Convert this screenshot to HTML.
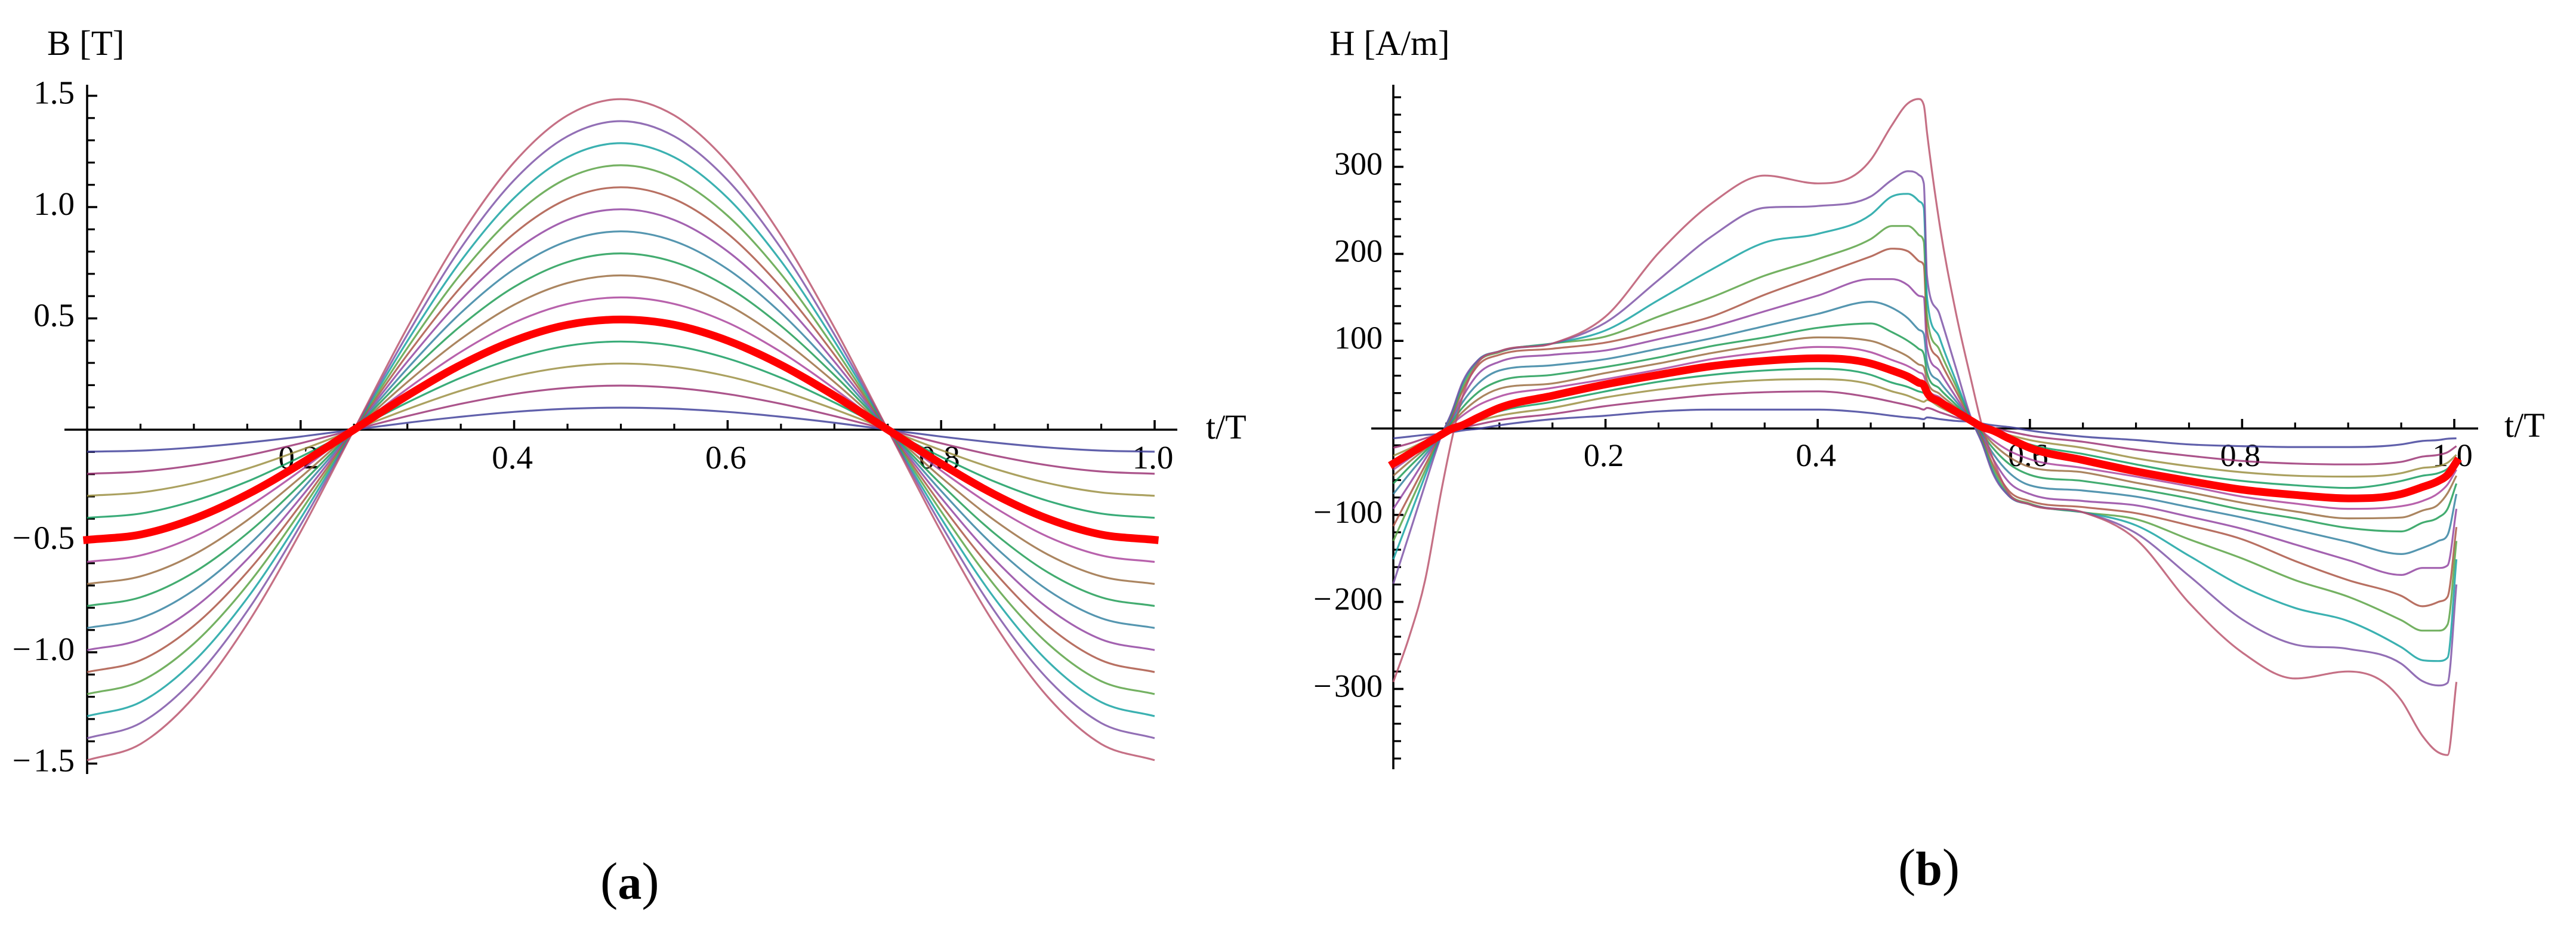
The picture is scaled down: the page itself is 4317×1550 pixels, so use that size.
<!DOCTYPE html>
<html lang="en">
<head>
<meta charset="utf-8">
<title>B and H waveforms</title>
<style>
html,body{margin:0;padding:0;background:#fff;}
svg{display:block;}
text{font-family:"Liberation Serif",serif;fill:#000;}
</style>
</head>
<body>
<svg id="figure" xmlns="http://www.w3.org/2000/svg" width="4317" height="1550" viewBox="0 0 4317 1550">
  <rect width="4317" height="1550" fill="#fff"/>
  <g id="chartB"></g>
  <g id="chartH"></g>
  <text x="79" y="92" font-size="59">B [T]</text>
  <text x="2021" y="735" font-size="58">t/T</text>
  <text x="2228" y="92" font-size="59">H [A/m]</text>
  <text x="4197" y="732" font-size="58">t/T</text>
  <text x="1006" y="1506" font-size="88">(<tspan font-weight="bold" font-size="80">a</tspan>)</text>
  <text x="3181" y="1483" font-size="88">(<tspan font-weight="bold" font-size="80">b</tspan>)</text>
</svg>
<script>
// ---------- shared series colours ----------
const seriesColors = ['#3d3d99','#992e71','#998c3d','#0f9a5c','#ff0000','#a8409a','#996a3d','#1a9a50','#2f7f9f','#8f3f9f','#a85040','#55a040','#10a0a0','#7a4fa5','#b8506a'];

// ---------- panel (a): B [T] ----------
const bTime = [0,.05,.1,.15,.2,.25,.3,.35,.4,.45,.5,.55,.6,.65,.7,.75,.8,.85,.9,.95,1];
const b01 = [-.099,-.094,-.08,-.058,-.031,0,.031,.058,.08,.094,.099,.094,.08,.058,.031,0,-.031,-.058,-.08,-.094,-.099];
const b02 = [-.198,-.188,-.16,-.116,-.061,0,.061,.116,.16,.188,.198,.188,.16,.116,.061,0,-.061,-.116,-.16,-.188,-.198];
const b03 = [-.297,-.282,-.24,-.175,-.092,0,.092,.175,.24,.282,.297,.282,.24,.175,.092,0,-.092,-.175,-.24,-.282,-.297];
const b04 = [-.396,-.377,-.32,-.233,-.122,0,.122,.233,.32,.377,.396,.377,.32,.233,.122,0,-.122,-.233,-.32,-.377,-.396];
const b05 = [-.495,-.471,-.4,-.291,-.153,0,.153,.291,.4,.471,.495,.471,.4,.291,.153,0,-.153,-.291,-.4,-.471,-.495];
const b06 = [-.594,-.565,-.481,-.349,-.184,0,.184,.349,.481,.565,.594,.565,.481,.349,.184,0,-.184,-.349,-.481,-.565,-.594];
const b07 = [-.693,-.659,-.561,-.407,-.214,0,.214,.407,.561,.659,.693,.659,.561,.407,.214,0,-.214,-.407,-.561,-.659,-.693];
const b08 = [-.792,-.753,-.641,-.466,-.245,0,.245,.466,.641,.753,.792,.753,.641,.466,.245,0,-.245,-.466,-.641,-.753,-.792];
const b09 = [-.891,-.847,-.721,-.524,-.275,0,.275,.524,.721,.847,.891,.847,.721,.524,.275,0,-.275,-.524,-.721,-.847,-.891];
const b10 = [-.99,-.942,-.801,-.582,-.306,0,.306,.582,.801,.942,.99,.942,.801,.582,.306,0,-.306,-.582,-.801,-.942,-.99];
const b11 = [-1.089,-1.036,-.881,-.64,-.337,0,.337,.64,.881,1.036,1.089,1.036,.881,.64,.337,0,-.337,-.64,-.881,-1.036,-1.089];
const b12 = [-1.188,-1.13,-.961,-.699,-.367,0,.367,.699,.961,1.13,1.188,1.13,.961,.699,.367,0,-.367,-.699,-.961,-1.13,-1.188];
const b13 = [-1.287,-1.224,-1.041,-.757,-.398,0,.398,.757,1.041,1.224,1.287,1.224,1.041,.757,.398,0,-.398,-.757,-1.041,-1.224,-1.287];
const b14 = [-1.386,-1.318,-1.121,-.815,-.428,0,.428,.815,1.121,1.318,1.386,1.318,1.121,.815,.428,0,-.428,-.815,-1.121,-1.318,-1.386];
const b15 = [-1.485,-1.412,-1.201,-.873,-.459,0,.459,.873,1.201,1.412,1.485,1.412,1.201,.873,.459,0,-.459,-.873,-1.201,-1.412,-1.485];
const bSeries = [b01,b02,b03,b04,b05,b06,b07,b08,b09,b10,b11,b12,b13,b14,b15];
const bXMajor = [.2,.4,.6,.8,1];
const bXLabels = ['0.2','0.4','0.6','0.8','1.0'];
const bXMinor = [.05,.1,.15,.25,.3,.35,.45,.5,.55,.65,.7,.75,.85,.9,.95];
const bYMajor = [-1.5,-1,-.5,.5,1,1.5];
const bYLabels = ['\u2212\u200A1.5','\u2212\u200A1.0','\u2212\u200A0.5','0.5','1.0','1.5'];
const bYMinor = [-1.4,-1.3,-1.2,-1.1,-.9,-.8,-.7,-.6,-.4,-.3,-.2,-.1,.1,.2,.3,.4,.6,.7,.8,.9,1.1,1.2,1.3,1.4];

// ---------- panel (b): H [A/m] ----------
const hTime = [0,.015,.03,.045,.055,.065,.08,.1,.15,.2,.25,.3,.35,.4,.45,.47,.485,.495,.5,.503,.515,.53,.545,.555,.565,.58,.6,.65,.7,.75,.8,.85,.9,.95,.97,.985,.9937,1.002];
const h01 = [-12,-10,-8,-7,-5,-3,-1,3,10,14,19,21,21,21,17,14,12,11,10,12,10,8,7,5,3,1,-3,-10,-14,-19,-21,-22,-22,-19,-15,-14,-12.5,-12];
const h02 = [-23,-18,-12,-7,-3,0,4,9,16,25,32,38,41,42,35,30,26,23,21,23,18,12,7,3,0,-4,-9,-16,-25,-32,-38,-41,-42,-39,-33,-31,-28,-21];
const h03 = [-32,-24,-15,-7,-2,2,8,14,23,35,44,51,55,56,50,42,37,32,30,32,24,15,7,2,-2,-8,-14,-23,-35,-44,-51,-55,-56,-52,-46,-44,-40,-31];
const h04 = [-37,-27,-17,-7,0,5,11,19,30,42,53,61,66,68,61,52,47,42,40,37,27,17,7,0,-5,-11,-19,-30,-42,-53,-61,-66,-69,-61,-55,-52,-47,-36];
const h05 = [-41,-30,-19,-8,-1,3,12,23,37,50,61,71,77,80,74,66,59,52,49,41,30,19,8,1,-3,-12,-23,-37,-50,-61,-71,-77,-81,-76,-68,-61,-54,-39];
const h06 = [-48,-35,-21,-8,4,14,26,36,46,56,67,79,87,93,87,78,71,64,60,48,35,21,8,-4,-14,-26,-36,-46,-56,-67,-79,-87,-93,-90,-84,-75,-65,-48];
const h07 = [-55,-39,-24,-8,5,18,33,45,51,63,74,86,96,104,100,91,82,73,70,55,39,24,8,-5,-18,-33,-45,-51,-63,-74,-86,-96,-104,-103,-95,-88,-75,-55];
const h08 = [-64,-45,-27,-8,7,23,41,54,61,70,81,94,104,115,120,110,100,91,85,64,45,27,8,-7,-23,-41,-54,-61,-70,-81,-94,-104,-115,-119,-109,-103,-93,-64];
const h09 = [-76,-53,-31,-8,9,29,51,66,72,79,91,103,117,131,145,138,126,113,108,76,53,31,8,-9,-29,-51,-66,-72,-79,-91,-103,-117,-131,-145,-138,-130,-123,-76];
const h10 = [-93,-65,-36,-8,11,35,62,76,84,89,102,116,134,152,171,171,164,152,150,93,65,36,8,-11,-35,-62,-76,-84,-89,-102,-116,-134,-152,-169,-161,-161,-158,-93];
const h11 = [-113,-78,-43,-8,13,42,72,84,91,98,112,128,153,175,197,206,203,192,187,113,78,43,8,-13,-42,-72,-84,-91,-98,-112,-128,-153,-175,-193,-205,-200,-194,-114];
const h12 = [-130,-89,-49,-9,15,46,76,87,97,105,128,150,175,194,217,232,232,222,214,130,89,49,9,-15,-46,-76,-87,-97,-105,-128,-150,-175,-194,-221,-233,-233,-226,-130];
const h13 = [-151,-103,-55,-9,17,50,78,88,97,112,147,182,213,223,245,266,269,261,253,151,103,55,9,-17,-50,-78,-88,-97,-112,-147,-182,-207,-222,-252,-267,-268,-264,-151];
const h14 = [-179,-122,-65,-10,18,52,78,88,97,121,170,220,253,255,266,285,295,291,281,175,130,70,10,-18,-52,-78,-88,-97,-121,-170,-220,-249,-254,-271,-291,-296,-293,-180];
const h15 = [-292,-240,-175,-74,-14,35,75,88,97,128,201,258,290,281,308,348,373,378,371,340,233,134,53,2,-35,-75,-88,-97,-128,-201,-258,-288,-280,-313,-354,-373,-376,-292];
const hSeries = [h01,h02,h03,h04,h05,h06,h07,h08,h09,h10,h11,h12,h13,h14,h15];
const hXMajor = [.2,.4,.6,.8,1];
const hXLabels = ['0.2','0.4','0.6','0.8','1.0'];
const hXMinor = [.05,.1,.15,.25,.3,.35,.45,.5,.55,.65,.7,.75,.85,.9,.95];
const hYMajor = [-300,-200,-100,100,200,300];
const hYLabels = ['\u2212\u200A300','\u2212\u200A200','\u2212\u200A100','100','200','300'];
const hYMinor = [-380,-360,-340,-320,-280,-260,-240,-220,-180,-160,-140,-120,-80,-60,-40,-20,20,40,60,80,120,140,160,180,220,240,260,280,320,340,360,380];

// ---------- axis functions ----------
function xB(t){return 146+1789*t;}
function yB(v){return 720-373*v;}
function xH(t){return 2335+1778*t;}
function yH(v){return 717-1.458*v;}

const SVGNS='http://www.w3.org/2000/svg';
function mk(parent,tag,attrs,txt){
  const el=document.createElementNS(SVGNS,tag);
  for(const k in attrs){el.setAttribute(k,attrs[k]);}
  if(txt!==undefined){el.textContent=txt;}
  parent.appendChild(el);
  return el;
}

// Cubic path with three-point tangents, limited so sharp jumps do not overshoot
function smoothPath(px,py){
  const n=px.length,d=[],m=new Array(n);
  for(let i=0;i<n-1;i++){d[i]=(py[i+1]-py[i])/(px[i+1]-px[i]);}
  m[0]=d[0];m[n-1]=d[n-2];
  for(let i=1;i<n-1;i++){
    if(d[i-1]*d[i]<=0){m[i]=0;}
    else{
      const h0=px[i]-px[i-1],h1=px[i+1]-px[i];
      const est=(h1*d[i-1]+h0*d[i])/(h0+h1);
      const lim=3*Math.min(Math.abs(d[i-1]),Math.abs(d[i]));
      m[i]=Math.sign(est)*Math.min(Math.abs(est),lim);
    }
  }
  let s='M'+px[0].toFixed(1)+' '+py[0].toFixed(1);
  for(let i=0;i<n-1;i++){
    const h=(px[i+1]-px[i])/3;
    s+='C'+(px[i]+h).toFixed(1)+' '+(py[i]+m[i]*h).toFixed(1)+' '+(px[i+1]-h).toFixed(1)+' '+(py[i+1]-m[i+1]*h).toFixed(1)+' '+px[i+1].toFixed(1)+' '+py[i+1].toFixed(1);
  }
  return s;
}

function drawChart(group,cfg){
  const X=cfg.x,Y=cfg.y;
  // axes
  const xAxis=mk(group,'line',{x1:cfg.xStart,x2:cfg.xEnd,y1:cfg.axisY,y2:cfg.axisY,stroke:'#000','stroke-width':3.6});
  
  
  const yAxis=mk(group,'line',{x1:X(0),x2:X(0),y1:cfg.yTop,y2:cfg.yBottom,stroke:'#000','stroke-width':3.6});
  
  
  // x ticks
  cfg.xMajor.forEach(function(t,i){
    const tick=mk(group,'line',{x1:X(t),x2:X(t),y1:cfg.axisY,y2:cfg.axisY-16,stroke:'#000','stroke-width':3.6});
    
    
    const lab=mk(group,'text',{x:X(t)-3,y:cfg.xLabelY,'font-size':cfg.fs,'text-anchor':'middle'},cfg.xLabels[i]);
    
    
  });
  cfg.xMinor.forEach(function(t){
    const tick=mk(group,'line',{x1:X(t),x2:X(t),y1:cfg.axisY,y2:cfg.axisY-10,stroke:'#000','stroke-width':3.2});
    
    
  });
  // y ticks
  cfg.yMajor.forEach(function(v,i){
    const tick=mk(group,'line',{x1:X(0),x2:X(0)+17,y1:Y(v),y2:Y(v),stroke:'#000','stroke-width':3.6});
    
    
    const lab=mk(group,'text',{x:cfg.yLabelX,y:Y(v)+13,'font-size':cfg.fs,'text-anchor':'end'},cfg.yLabels[i]);
    
    
  });
  cfg.yMinor.forEach(function(v){
    const tick=mk(group,'line',{x1:X(0),x2:X(0)+13,y1:Y(v),y2:Y(v),stroke:'#000','stroke-width':3.2});
    
    
  });
  // curves, thick red one last
  const order=[0,1,2,3,5,6,7,8,9,10,11,12,13,14,4];
  order.forEach(function(k){
    const vals=cfg.series[k];
    const px=cfg.time.map(X),py=vals.map(Y);
    const thick=(k===4);
    const curve=mk(group,'path',{d:smoothPath(px,py),fill:'none',stroke:seriesColors[k],
      'stroke-width':thick?13:3.2,'stroke-opacity':thick?1:0.82,
      'stroke-linejoin':'round','stroke-linecap':thick?'square':'butt'});
    
    
  });
}

drawChart(document.getElementById('chartB'),{
  x:xB,y:yB,time:bTime,series:bSeries,
  xMajor:bXMajor,xLabels:bXLabels,xMinor:bXMinor,
  yMajor:bYMajor,yLabels:bYLabels,yMinor:bYMinor,
  axisY:720,xStart:108,xEnd:1973,yTop:142,yBottom:1297,
  xLabelY:785,yLabelX:125,fs:55
});
drawChart(document.getElementById('chartH'),{
  x:xH,y:yH,time:hTime,series:hSeries,
  xMajor:hXMajor,xLabels:hXLabels,xMinor:hXMinor,
  yMajor:hYMajor,yLabels:hYLabels,yMinor:hYMinor,
  axisY:718,xStart:2298,xEnd:4153,yTop:142,yBottom:1289,
  xLabelY:781,yLabelX:2317,fs:54
});
</script>
</body>
</html>
